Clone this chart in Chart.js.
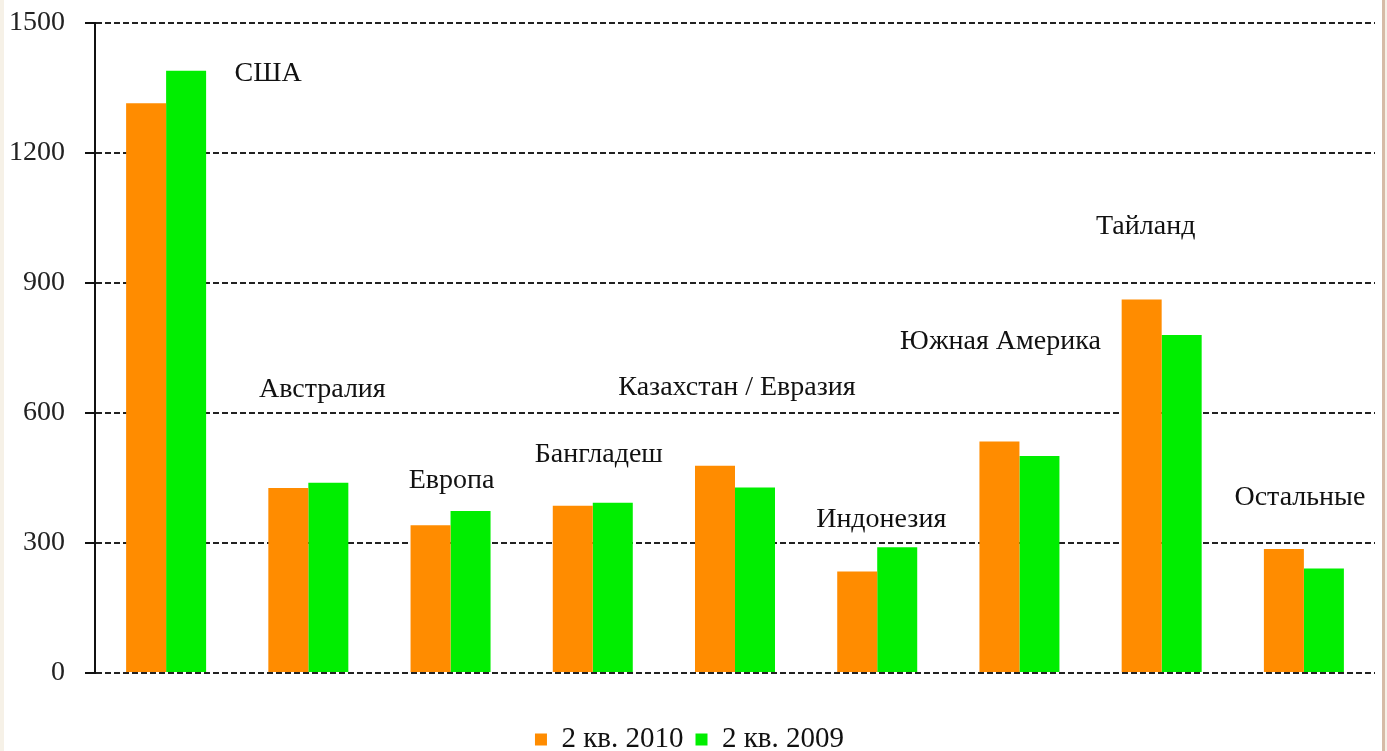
<!DOCTYPE html>
<html lang="ru">
<head>
<meta charset="utf-8">
<title>2 кв. 2010 / 2 кв. 2009</title>
<script src="https://cdn.jsdelivr.net/npm/chart.js@4.4.0/dist/chart.umd.min.js"></script>
<style>
    html, body {
        margin: 0;
        padding: 0;
        width: 1387px;
        height: 751px;
        overflow: hidden;
        background: #f6f1e7;
    }
    .frame {
        position: absolute;
        left: 4px;
        top: 0;
        width: 1378px;
        height: 751px;
        background: #fff;
        border-right: 3px solid #d6bba6;
    }
</style>
</head>
<body>
<div class="frame">
    <canvas id="regionChart" width="1378" height="751"></canvas>
</div>

<script>
// regions and quarterly volumes
const regions = ['США', 'Австралия', 'Европа', 'Бангладеш', 'Казахстан / Евразия',
    'Индонезия', 'Южная Америка', 'Тайланд', 'Остальные'];
const q2_2010 = [1315, 427, 341, 386, 478, 234, 534, 862, 286];
const q2_2009 = [1390, 439, 374, 393, 428, 290, 501, 780, 241];
const yTicks = [0, 300, 600, 900, 1200, 1500];

// where each region name sits: height on the value axis, and a sideways nudge in px
const nameLevel = [1382, 655, 445, 503, 658, 353, 764, 1029, 404];
const nameShift = [102, 14, 1, 6, 2, 4, -19, -16, -4];

const serif = '"Liberation Serif", "Times New Roman", serif';

// region names floating over the bar pairs
const regionNames = {
    id: 'regionNames',
    afterDatasetsDraw(chart) {
        const {ctx, scales: {x, y}} = chart;
        ctx.save();
        ctx.font = '28px ' + serif;
        ctx.fillStyle = '#111';
        ctx.textAlign = 'center';
        ctx.textBaseline = 'middle';
        regions.forEach((name, i) => {
            ctx.fillText(name, x.getPixelForValue(i) + nameShift[i], y.getPixelForValue(nameLevel[i]));
        });
        ctx.restore();
    }
};

const ctx = document.getElementById('regionChart').getContext('2d');
const regionChart = new Chart(ctx, {
    type: 'bar',
    data: {
        labels: regions,
        datasets: [{
            label: '2 кв. 2010',
            data: q2_2010,
            backgroundColor: '#ff8c00',
            borderWidth: 0,
            categoryPercentage: 0.5625,
            barPercentage: 1.0
        }, {
            label: '2 кв. 2009',
            data: q2_2009,
            backgroundColor: '#00ee00',
            borderWidth: 0,
            categoryPercentage: 0.5625,
            barPercentage: 1.0
        }]
    },
    options: {
        responsive: false,
        animation: false,
        layout: {
            padding: {top: 23, right: 7, bottom: 0, left: 0}
        },
        scales: {
            x: {
                ticks: {display: false},
                grid: {display: false},
                border: {display: false},
                afterFit(scale) {
                    scale.height = 40;
                }
            },
            y: {
                min: 0,
                max: 1500,
                afterBuildTicks(scale) {
                    scale.ticks = yTicks.map(v => ({value: v}));
                },
                afterFit(scale) {
                    // label padding would otherwise push the plot down
                    scale.width = 91;
                    scale.paddingTop = 14;
                    scale.paddingBottom = 14;
                },
                ticks: {
                    color: '#222',
                    padding: 20,
                    font: {family: serif, size: 28},
                    callback: v => String(v)
                },
                grid: {
                    color: '#222',
                    lineWidth: 2,
                    tickLength: 10,
                    tickColor: '#111',
                    tickWidth: 2
                },
                border: {
                    display: true,
                    color: '#111',
                    width: 2,
                    dash: [6, 3]
                }
            }
        },
        plugins: {
            legend: {
                position: 'bottom',
                maxHeight: 38,
                labels: {
                    color: '#111',
                    boxWidth: 12,
                    boxHeight: 12,
                    padding: 12,
                    font: {family: serif, size: 29}
                }
            },
            tooltip: {enabled: false}
        }
    },
    plugins: [regionNames]
});
</script>
</body>
</html>
